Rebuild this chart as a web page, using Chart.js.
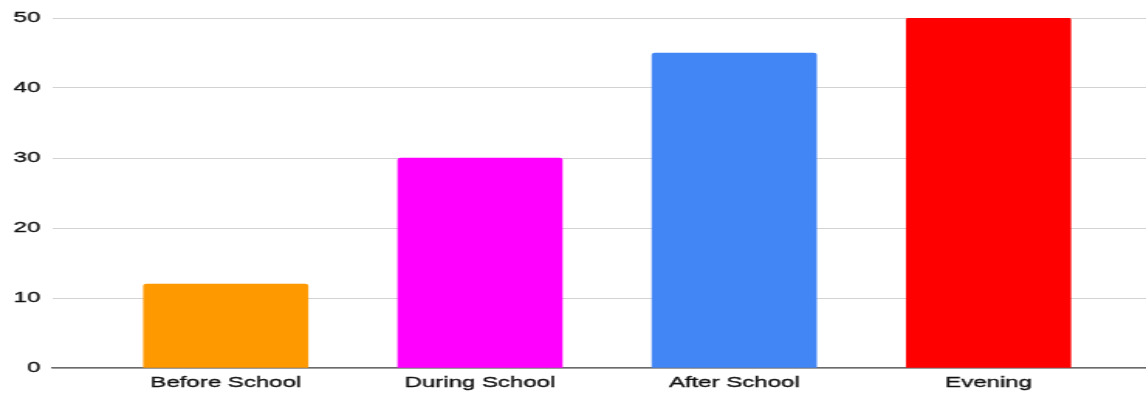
<!DOCTYPE html>
<html>
<head>
<meta charset="utf-8">
<script src="https://cdn.jsdelivr.net/npm/chart.js@4/dist/chart.umd.min.js"></script>
<style>
  html, body { margin: 0; padding: 0; background: #fff; overflow: hidden; }
  /* the chart is drawn narrow and widened horizontally to get the wide lettering */
  #wrap { width: 740px; height: 393px; transform: scaleX(1.5486); transform-origin: 0 0; }
</style>
</head>
<body>
<div id="wrap"><canvas id="chart"></canvas></div>
<script>
const categories = ['Before School', 'During School', 'After School', 'Evening'];
const values = [12, 30, 45, 50];
const barColors = ['#FF9900', '#FF00FF', '#4285F4', '#FF0000'];
const yTicks = [0, 10, 20, 30, 40, 50];

const font = { family: '"Liberation Sans", Arial, sans-serif', size: 15.5 };
const tickText = { color: '#111', textStrokeColor: '#111', textStrokeWidth: 0.35, font: font };

new Chart(document.getElementById('chart'), {
  type: 'bar',
  data: {
    datasets: [{
      data: values.map((v, i) => ({ x: i, y: v })),
      backgroundColor: barColors,
      borderRadius: 2,
      barThickness: 106
    }]
  },
  options: {
    responsive: true,
    maintainAspectRatio: false,
    animation: false,
    layout: { padding: { top: 18, left: 0, right: 0, bottom: 0 } },
    plugins: { legend: { display: false }, tooltip: { enabled: false } },
    scales: {
      x: {
        type: 'linear',
        offset: false,
        min: -0.6808,
        max: 3.6193,
        grid: { display: false, drawTicks: false },
        border: { display: true, color: '#6b6b6b', width: 1.5 },
        afterBuildTicks: (scale) => { scale.ticks = categories.map((_, i) => ({ value: i })); },
        afterFit: (scale) => { scale.height = 25; },
        ticks: Object.assign({
          autoSkip: false,
          maxRotation: 0,
          padding: 5,
          callback: (v) => categories[v] ?? ''
        }, tickText)
      },
      y: {
        min: yTicks[0],
        max: yTicks[yTicks.length - 1],
        afterBuildTicks: (scale) => { scale.ticks = yTicks.map(v => ({ value: v })); },
        afterFit: (scale) => { scale.width = 34; },
        grid: { color: '#d3d3d3', lineWidth: 1, drawTicks: false },
        border: { display: false },
        ticks: Object.assign({ padding: 8 }, tickText)
      }
    }
  }
});
</script>
</body>
</html>
